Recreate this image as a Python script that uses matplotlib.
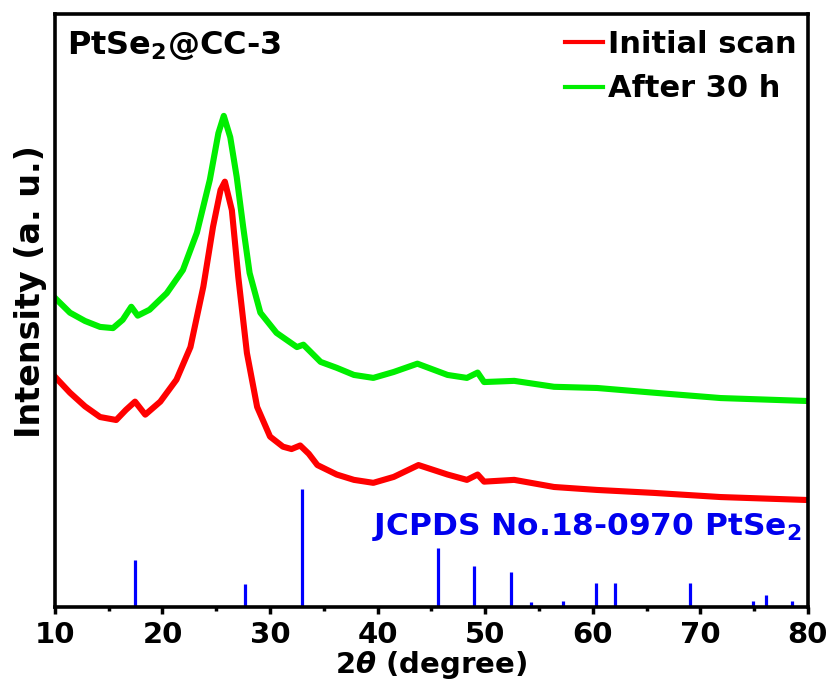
import matplotlib
matplotlib.use("Agg")
import matplotlib.pyplot as plt
from matplotlib.ticker import MultipleLocator

plt.rcParams['font.family'] = ['DejaVu Sans']
plt.rcParams['font.weight'] = 'bold'
plt.rcParams['mathtext.fontset'] = 'custom'
plt.rcParams['mathtext.rm'] = 'DejaVu Sans:bold'
plt.rcParams['mathtext.it'] = 'DejaVu Sans:italic:bold'
plt.rcParams['mathtext.bf'] = 'DejaVu Sans:bold'
plt.rcParams['mathtext.default'] = 'rm'

# --- data ---
initial_x = [10, 11.4, 12.8, 14.2, 15.7, 16.6, 17.45, 18.4, 19.8, 21.3, 22.6, 23.8,
             24.7, 25.4, 25.8, 26.45, 27.05, 27.85, 28.8, 30.0, 31.2, 32.0, 32.8,
             33.6, 34.4, 36.2, 37.8, 39.6, 41.5, 43.8, 46.5, 48.3, 49.3, 49.9,
             52.7, 56.4, 60.4, 65.7, 71.9, 80]
initial_y = [388, 361, 338, 320, 315, 332, 346, 324, 346, 383, 438, 540,
             641, 703, 717, 669, 556, 428, 337, 287, 270, 266, 272,
             258, 239, 223, 214, 209, 219, 239, 223, 214, 223, 211,
             214, 202, 197, 192, 185, 180]

after_x = [10, 11.4, 12.8, 14.2, 15.4, 16.3, 17.1, 17.7, 18.8, 20.4, 21.9, 23.2,
           24.4, 25.2, 25.7, 26.3, 26.9, 27.5, 28.1, 29.1, 30.6, 32.5, 33.1,
           34.7, 36.2, 37.8, 39.6, 41.5, 43.7, 46.5, 48.3, 49.3, 49.9,
           52.7, 56.4, 60.4, 65.7, 71.9, 80]
after_y = [521, 496, 482, 472, 470, 484, 506, 491, 501, 529, 568, 631,
           720, 799, 828, 792, 725, 641, 563, 496, 462, 438, 442,
           413, 403, 391, 386, 396, 410, 391, 386, 395, 379,
           381, 371, 369, 361, 352, 347]

ref_pos = [17.45, 27.7, 32.97, 45.6, 49.0, 52.4, 54.3, 57.2, 60.3, 62.05, 69.06,
           74.87, 76.1, 78.5]
ref_int = [40, 19, 100, 50, 35, 30, 4, 5, 20, 20, 20, 5, 10, 5]
ref_scale = 1.98

x_ticks = [10, 20, 30, 40, 50, 60, 70, 80]

fig = plt.figure(figsize=(8.32, 6.95), dpi=100)
ax = fig.add_axes([0.066, 0.127, 0.905, 0.853])

ax.plot(initial_x, initial_y, color='#ff0000', lw=4.4, label='Initial scan',
        solid_joinstyle='round')
ax.plot(after_x, after_y, color='#00ee00', lw=4.4, label='After 30 h',
        solid_joinstyle='round')
ax.vlines(ref_pos, 0, [v * ref_scale for v in ref_int], color='#0000ff', lw=2.3)

ax.set_xlim(10, 80)
ax.set_ylim(0, 1000)
ax.set_xticks(x_ticks)
ax.xaxis.set_minor_locator(MultipleLocator(5))
ax.set_yticks([])
ax.tick_params(axis='x', which='major', direction='out', length=5, width=2.5,
               labelsize=21, pad=5)
ax.tick_params(axis='x', which='minor', direction='out', length=3, width=2.5)
for lab in ax.get_xticklabels():
    lab.set_fontweight('bold')
for sp in ax.spines.values():
    sp.set_linewidth(2.6)

ax.set_xlabel(r'2$\mathit{\theta}$ (degree)', fontsize=21, fontweight='bold', labelpad=0)
ax.set_ylabel('Intensity (a. u.)', fontsize=24, fontweight='bold')
ax.yaxis.set_label_coords(-0.011, 0.532)

ax.text(0.016, 0.975, r'PtSe$_2$@CC-3', transform=ax.transAxes, fontsize=23,
        fontweight='bold', va='top', ha='left')
ax.text(0.992, 0.135, r'JCPDS No.18-0970 PtSe$_2$', transform=ax.transAxes,
        fontsize=22.5, fontweight='bold', color='#0000ee', va='center', ha='right')

leg = ax.legend(loc='upper right', frameon=False, fontsize=22, handlelength=1.25,
                handletextpad=0.15, labelspacing=0.5, borderaxespad=0.05,
                bbox_to_anchor=(1.003, 0.996))
for t in leg.get_texts():
    t.set_fontweight('bold')
for h in leg.get_lines():
    h.set_linewidth(3)

fig.savefig('out.png', dpi=100)
